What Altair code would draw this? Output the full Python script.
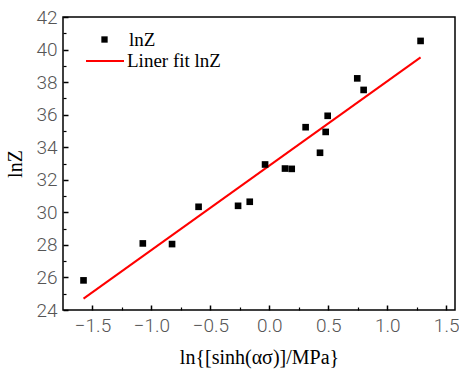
import altair as alt
import pandas as pd

# data
x_vals = [-1.576, -1.073, -0.825, -0.600, -0.265, -0.166, -0.036, 0.133, 0.190,
          0.430, 0.308, 0.478, 0.495, 0.746, 0.800, 1.283]
y_vals = [25.82, 28.09, 28.05, 30.34, 30.40, 30.65, 32.94, 32.69, 32.67,
          33.66, 35.23, 34.94, 35.93, 38.23, 37.52, 40.53]
fit_x = [-1.576, 1.283]
fit_y = [24.70, 39.52]
x_ticks = [-1.5, -1.0, -0.5, 0.0, 0.5, 1.0, 1.5]
x_minor = [-1.25, -0.75, -0.25, 0.25, 0.75, 1.25]
y_ticks = [24, 26, 28, 30, 32, 34, 36, 38, 40, 42]
y_minor = [25, 27, 29, 31, 33, 35, 37, 39, 41]
point_label = "lnZ"
fit_label = "Liner fit lnZ"

pts = pd.DataFrame({"x": x_vals, "y": y_vals, "s": point_label})
fit = pd.DataFrame({"x": fit_x, "y": fit_y, "s": fit_label})

xs = alt.Scale(domain=[-1.75, 1.575], nice=False, zero=False)
ys = alt.Scale(domain=[24, 42], nice=False, zero=False)

LABEL_FONT = "Roboto"
SERIF = "Liberation Serif"

x_main = alt.Axis(values=x_ticks, format=".1f", orient="bottom", offset=-5, tickSize=5,
                  tickWidth=1.5, tickColor="black", domain=False, grid=False,
                  labelFont=LABEL_FONT, labelFontSize=19, labelFontWeight=300,
                  labelColor="#555", labelPadding=6,
                  title="ln{[sinh(ασ)]/MPa}", titleFont=SERIF, titleFontSize=20,
                  titleFontWeight="normal", titleColor="black", titlePadding=12)
y_main = alt.Axis(values=y_ticks, format="d", orient="left", offset=-5, tickSize=5,
                  tickWidth=1.5, tickColor="black", domain=False, grid=False,
                  labelFont=LABEL_FONT, labelFontSize=19, labelFontWeight=300,
                  labelColor="#555", labelPadding=6,
                  title="lnZ", titleFont=SERIF, titleFontSize=20,
                  titleFontWeight="normal", titleColor="black", titlePadding=10)
x_min = alt.Axis(values=x_minor, orient="bottom", offset=-3, tickSize=3, tickWidth=1.2,
                 tickColor="black", domain=False, grid=False, labels=False, title=None)
y_min = alt.Axis(values=y_minor, orient="left", offset=-3, tickSize=3, tickWidth=1.2,
                 tickColor="black", domain=False, grid=False, labels=False, title=None)

points = alt.Chart(pts).mark_point(filled=True, opacity=1, color="black", size=44).encode(
    x=alt.X("x:Q", scale=xs, axis=x_main),
    y=alt.Y("y:Q", scale=ys, axis=y_main),
    shape=alt.Shape("s:N", scale=alt.Scale(domain=[point_label], range=["square"]),
                    legend=alt.Legend(orient="none", legendX=32, legendY=13, title=None,
                                      padding=0, labelFont=SERIF, labelFontSize=19,
                                      labelColor="black", symbolSize=40,
                                      symbolFillColor="black", symbolStrokeWidth=0,
                                      labelOffset=15)),
)

line = alt.Chart(fit).mark_line(strokeWidth=2).encode(
    x=alt.X("x:Q", scale=xs, axis=x_min),
    y=alt.Y("y:Q", scale=ys, axis=y_min),
    color=alt.Color("s:N", scale=alt.Scale(domain=[fit_label], range=["#ff0000"]),
                    legend=alt.Legend(orient="none", legendX=22, legendY=24, title=None,
                                      padding=0, labelFont=SERIF, labelFontSize=19,
                                      labelColor="black", symbolSize=1444,
                                      symbolStrokeWidth=2, labelOffset=2)),
)

chart = alt.layer(line, points).resolve_axis(x="independent", y="independent").properties(
    width=392, height=293, autosize=alt.AutoSizeParams(type="none"),
    padding={"left": 63, "top": 17, "right": 4, "bottom": 64},
    background="white",
).configure_view(stroke="black", strokeWidth=1.5)

chart.save("out.html", embed_options={"renderer": "svg", "actions": False})
